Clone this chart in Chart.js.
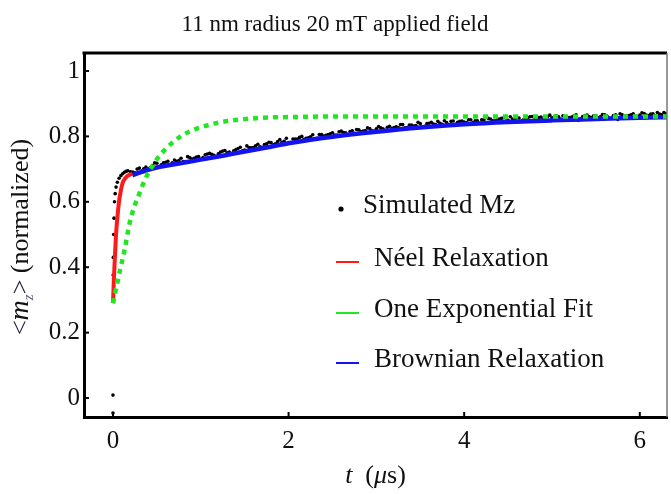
<!DOCTYPE html>
<html>
<head>
<meta charset="utf-8">
<script src="https://cdn.jsdelivr.net/npm/chart.js@4.4.0/dist/chart.umd.min.js"></script>
<style>
body{margin:0;background:#fff}
</style>
</head>
<body>
<canvas id="mzChart" width="671" height="494"></canvas>
<script>
// simulated <mz> (t in microseconds)
const simT=[0,0,0.002,0.004,0.008,0.012,0.018,0.025,0.035,0.05,0.07,0.09,0.11,0.13,0.15,0.17,
  0.20,0.25,0.30,0.35,0.40,0.45,0.50,0.55,0.60,0.65,0.70,0.75,0.80,0.85,0.90,0.95,
  1.00,1.05,1.10,1.15,1.20,1.25,1.30,1.35,1.40,1.45,1.50,1.55,1.60,1.65,1.70,1.75,1.80,1.85,1.90,1.95,
  2.00,2.05,2.10,2.15,2.20,2.25,2.30,2.35,2.40,2.45,2.50,2.55,2.60,2.65,2.70,2.75,2.80,2.85,2.90,2.95,
  3.00,3.05,3.10,3.15,3.20,3.25,3.30,3.35,3.40,3.45,3.50,3.55,3.60,3.65,3.70,3.75,3.80,3.85,3.90,3.95,
  4.00,4.05,4.10,4.15,4.20,4.25,4.30,4.35,4.40,4.45,4.50,4.55,4.60,4.65,4.70,4.75,4.80,4.85,4.90,4.95,
  5.00,5.05,5.10,5.15,5.20,5.25,5.30,5.35,5.40,5.45,5.50,5.55,5.60,5.65,5.70,5.75,5.80,5.85,5.90,5.95,
  6.00,6.05,6.10,6.15,6.20,6.25,6.30];
const simMz=[0.009,-0.046,0.376,0.430,0.500,0.550,0.600,0.625,0.645,0.660,0.672,0.680,0.686,0.690,0.693,0.695,
  0.692,0.689,0.703,0.701,0.700,0.711,0.718,0.713,0.721,0.714,0.728,0.726,0.723,0.738,0.731,0.737,
  0.730,0.744,0.748,0.742,0.747,0.755,0.750,0.747,0.760,0.767,0.758,0.766,0.766,0.776,0.767,0.777,0.781,0.777,0.790,0.785,
  0.781,0.792,0.792,0.800,0.794,0.799,0.792,0.806,0.801,0.806,0.811,0.804,0.816,0.811,0.815,0.809,0.820,0.816,0.826,0.817,
  0.823,0.826,0.819,0.831,0.827,0.827,0.836,0.827,0.835,0.833,0.839,0.831,0.840,0.838,0.846,0.837,0.842,0.846,0.836,0.846,
  0.844,0.851,0.842,0.848,0.851,0.842,0.853,0.848,0.853,0.857,0.849,0.853,0.857,0.846,0.855,0.860,0.853,0.858,0.852,0.860,
  0.857,0.863,0.853,0.860,0.858,0.863,0.849,0.861,0.865,0.858,0.863,0.860,0.866,0.856,0.864,0.852,0.866,0.862,0.866,0.861,
  0.865,0.870,0.864,0.869,0.873,0.866,0.869];
// the samples in between
const simT2=[0.225,0.275,0.325,0.375,0.425,0.475,0.525,0.575,0.625,0.675,0.725,0.775,0.825,0.875,0.925,0.975,
  1.025,1.075,1.125,1.175,1.225,1.275,1.325,1.375,1.425,1.475,1.525,1.575,1.625,1.675,1.725,1.775,1.825,1.875,1.925,1.975,
  2.025,2.075,2.125,2.175,2.225,2.275,2.325,2.375,2.425,2.475,2.525,2.575,2.625,2.675,2.725,2.775,2.825,2.875,2.925,2.975,
  3.025,3.075,3.125,3.175,3.225,3.275,3.325,3.375,3.425,3.475,3.525,3.575,3.625,3.675,3.725,3.775,3.825,3.875,3.925,3.975,
  4.025,4.075,4.125,4.175,4.225,4.275,4.325,4.375,4.425,4.475,4.525,4.575,4.625,4.675,4.725,4.775,4.825,4.875,4.925,4.975,
  5.025,5.075,5.125,5.175,5.225,5.275,5.325,5.375,5.425,5.475,5.525,5.575,5.625,5.675,5.725,5.775,5.825,5.875,5.925,5.975,
  6.025,6.075,6.125,6.175,6.225,6.275];
const simMz2=[0.691,0.700,0.694,0.706,0.705,0.719,0.707,0.719,0.724,0.719,0.724,0.733,0.723,0.735,0.733,0.738,
  0.735,0.746,0.745,0.738,0.752,0.757,0.752,0.756,0.763,0.756,0.771,0.765,0.771,0.768,0.775,0.782,0.774,0.784,0.782,0.794,
  0.781,0.792,0.797,0.791,0.796,0.805,0.794,0.806,0.803,0.808,0.804,0.814,0.812,0.804,0.817,0.821,0.815,0.818,0.824,0.816,
  0.830,0.823,0.828,0.824,0.829,0.836,0.826,0.835,0.832,0.843,0.829,0.839,0.843,0.836,0.840,0.848,0.836,0.847,0.843,0.847,
  0.842,0.851,0.848,0.840,0.851,0.855,0.848,0.851,0.855,0.847,0.860,0.852,0.856,0.851,0.856,0.861,0.851,0.859,0.855,0.865,
  0.850,0.860,0.863,0.856,0.859,0.866,0.854,0.864,0.860,0.863,0.857,0.867,0.863,0.855,0.866,0.869,0.862,0.864,0.869,0.860,
  0.872,0.865,0.868,0.863,0.868,0.873];

// fits
const neelT=[0,0.01,0.02,0.03,0.04,0.055,0.07,0.09,0.11,0.14,0.17,0.2,0.22];
const neelMz=[0.29,0.36,0.42,0.475,0.52,0.565,0.603,0.635,0.658,0.672,0.68,0.684,0.686];
const expT=[0,0.04,0.08,0.13,0.19,0.25,0.3,0.36,0.42,0.5,0.6,0.7,0.8,0.9,1.0,1.2,1.4,1.6,1.8,2.0,2.5,3,4,5,6,6.35];
const expMz=[0.29,0.34,0.39,0.45,0.535,0.59,0.625,0.665,0.697,0.73,0.762,0.786,0.805,0.818,0.828,0.842,0.85,0.855,0.858,0.859,0.861,0.861,0.861,0.861,0.861,0.861];
const brownT=[0.22,0.3,0.4,0.5,0.75,1,1.25,1.5,1.75,2,2.25,2.5,3,3.5,4,4.5,5,5.5,6,6.35];
const brownMz=[0.681,0.689,0.698,0.705,0.717,0.729,0.741,0.754,0.766,0.779,0.79,0.799,0.814,0.827,0.837,0.844,0.849,0.853,0.857,0.859];

const xTicks=[0,2,4,6];
const yTicks=[0,0.2,0.4,0.6,0.8,1];
const names=['Simulated Mz','Néel Relaxation','One Exponential Fit','Brownian Relaxation'];

const serif="'Liberation Serif','Times New Roman',serif";
const RED='#ff1a1a', GREEN='#22e622', BLUE='#1414f0';

function pairs(xs,ys){
  return xs.map(function(x,i){return {x:x,y:ys[i]};});
}

// frame, inward ticks, axis titles and the legend
const extras={
  id:'extras',
  afterDraw:function(chart){
    const ctx=chart.ctx, a=chart.chartArea;
    const xs=chart.scales.x, ys=chart.scales.y;
    ctx.save();
    ctx.strokeStyle='#000';
    ctx.lineWidth=3;
    ctx.beginPath();ctx.moveTo(a.left-1.5,a.top);ctx.lineTo(a.right,a.top);ctx.stroke();
    ctx.strokeStyle='#777';ctx.lineWidth=1.5;
    ctx.beginPath();ctx.moveTo(a.right,a.top);ctx.lineTo(a.right,a.bottom);ctx.stroke();
    ctx.strokeStyle='#000';ctx.lineWidth=2;
    yTicks.forEach(function(v){
      const py=ys.getPixelForValue(v);
      ctx.beginPath();ctx.moveTo(a.left,py);ctx.lineTo(a.left+5,py);ctx.stroke();
    });
    xTicks.forEach(function(v){
      const px=xs.getPixelForValue(v);
      ctx.beginPath();ctx.moveTo(px,a.bottom);ctx.lineTo(px,a.bottom-5);ctx.stroke();
    });

    // x title: t (μs)
    ctx.fillStyle='#111';
    ctx.textBaseline='alphabetic';
    const parts=[['italic 26px '+serif,'t'],['26px '+serif,'  ('],['italic 26px '+serif,'μ'],['26px '+serif,'s)']];
    let w=0;
    parts.forEach(function(p){ctx.font=p[0];w+=ctx.measureText(p[1]).width;});
    let x=(a.left+a.right)/2-w/2;
    parts.forEach(function(p){ctx.font=p[0];ctx.fillText(p[1],x,483);x+=ctx.measureText(p[1]).width;});

    // y title: <m_z> (normalized)
    const yp=[['26px '+serif,'<','#1e1e3c',0],['italic 28px '+serif,'m','#111',0],['italic 15px '+serif,'z','#5a5a7a',5],
      ['26px '+serif,'>','#1e1e3c',0],['26px '+serif,' (normalized)','#111',0]];
    ctx.translate(28,(a.top+a.bottom)/2+2);
    ctx.rotate(-Math.PI/2);
    w=0;
    yp.forEach(function(p){ctx.font=p[0];w+=ctx.measureText(p[1]).width;});
    x=-w/2;
    yp.forEach(function(p){
      ctx.font=p[0];ctx.fillStyle=p[2];
      ctx.fillText(p[1],x,p[3]);
      x+=ctx.measureText(p[1]).width;
    });
    ctx.restore();

    // legend
    ctx.save();
    ctx.font='27px '+serif;
    ctx.fillStyle='#111';
    ctx.textBaseline='alphabetic';
    const lx=a.left+252, rows=[213,266,317,367];
    ctx.beginPath();ctx.arc(lx+5,rows[0]-4,2.6,0,Math.PI*2);ctx.fillStyle='#000';ctx.fill();
    ctx.fillStyle='#111';
    ctx.fillText(names[0],lx+27,rows[0]);
    const cols=[RED,GREEN,BLUE];
    for(let i=1;i<4;i++){
      ctx.strokeStyle=cols[i-1];ctx.lineWidth=2;
      ctx.beginPath();ctx.moveTo(lx,rows[i]-4);ctx.lineTo(lx+23,rows[i]-4);ctx.stroke();
      ctx.fillText(names[i],lx+38,rows[i]);
    }
    ctx.restore();
  }
};

new Chart(document.getElementById('mzChart'),{
  type:'scatter',
  data:{
    datasets:[
      {label:names[2],data:pairs(expT,expMz),showLine:true,borderColor:GREEN,borderWidth:4.5,
        borderDash:[5,5],borderCapStyle:'butt',pointRadius:0,cubicInterpolationMode:'monotone',order:0},
      {label:names[1],data:pairs(neelT,neelMz),showLine:true,borderColor:RED,borderWidth:4,
        pointRadius:0,cubicInterpolationMode:'monotone',order:1},
      {label:names[3],data:pairs(brownT,brownMz),showLine:true,borderColor:BLUE,borderWidth:4.5,
        pointRadius:0,cubicInterpolationMode:'monotone',order:2},
      {label:names[0],data:pairs(simT,simMz).concat(pairs(simT2,simMz2)),showLine:false,pointRadius:1.8,
        backgroundColor:'#000',borderColor:'#000',borderWidth:0,order:3}
    ]
  },
  options:{
    responsive:false,
    animation:false,
    layout:{padding:{left:0,right:1,top:0,bottom:0}},
    plugins:{
      legend:{display:false},
      tooltip:{enabled:false},
      title:{display:true,text:'11 nm radius 20 mT applied field',color:'#111',
        font:{family:serif,size:23,weight:'normal'},padding:{top:11,bottom:14.4}}
    },
    scales:{
      x:{
        type:'linear',min:-0.33,max:6.31,
        afterBuildTicks:function(s){s.ticks=xTicks.map(function(v){return {value:v};});},
        afterFit:function(s){s.height=77;},
        grid:{display:false,drawTicks:false},
        border:{display:true,color:'#000',width:3},
        ticks:{color:'#111',padding:9,font:{family:serif,size:25},maxRotation:0,
          callback:function(v){return String(v);}}
      },
      y:{
        type:'linear',min:-0.058,max:1.055,
        afterBuildTicks:function(s){s.ticks=yTicks.map(function(v){return {value:v};});},
        afterFit:function(s){s.width=84;},
        grid:{display:false,drawTicks:false},
        border:{display:true,color:'#000',width:3},
        ticks:{color:'#111',padding:4,font:{family:serif,size:25},
          callback:function(v){return String(Math.round(v*10)/10);}}
      }
    }
  },
  plugins:[extras]
});
</script>
</body>
</html>
